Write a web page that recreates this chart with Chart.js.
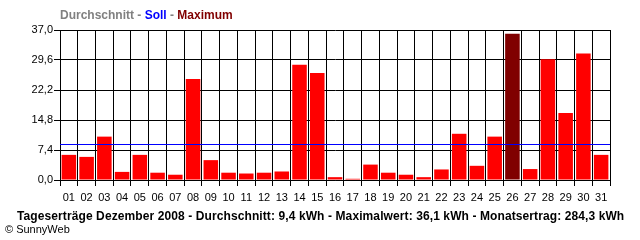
<!DOCTYPE html>
<html>
<head>
<meta charset="utf-8">
<script src="https://cdn.jsdelivr.net/npm/chart.js@4/dist/chart.umd.min.js"></script>
<style>
  html, body { margin: 0; padding: 0; background: #fff; }
  #wrap { position: relative; width: 640px; height: 240px; font-family: "Liberation Sans", Arial, sans-serif; }
  #chart { display: block; }
  #head { position: absolute; left: 60px; top: 8px; font-size: 12px; font-weight: bold; color: #808080; white-space: nowrap; }
  #foot { position: absolute; left: 17px; top: 209px; font-size: 12px; font-weight: bold; color: #000; white-space: nowrap; letter-spacing: 0.1px; }
  #copy { position: absolute; left: 5px; top: 223px; font-size: 11px; color: #000; white-space: nowrap; }
</style>
</head>
<body>
<div id="wrap">
  <canvas id="chart" width="640" height="240"></canvas>
  <div id="head">Durchschnitt - <span style="color:#0000ff">Soll</span> - <span style="color:#800000">Maximum</span></div>
  <div id="foot">Tageserträge Dezember 2008 - Durchschnitt: 9,4 kWh - Maximalwert: 36,1 kWh - Monatsertrag: 284,3 kWh</div>
  <div id="copy">© SunnyWeb</div>
</div>
<script>
var days = ['01', '02', '03', '04', '05', '06', '07', '08', '09', '10', '11', '12', '13', '14', '15', '16',
    '17', '18', '19', '20', '21', '22', '23', '24', '25', '26', '27', '28', '29', '30', '31'];
var yields = [6.2, 5.7, 10.7, 2.0, 6.2, 1.8, 1.3, 24.9, 4.9, 1.8, 1.6, 1.8, 2.1, 28.4, 26.4, 0.7,
    0.3, 3.8, 1.8, 1.3, 0.7, 2.6, 11.4, 3.5, 10.7, 36.1, 2.7, 29.8, 16.5, 31.2, 6.2];
var yTicks = [0, 7.4, 14.8, 22.2, 29.6, 37.0];
var soll = 9.0;
var maxValue = Math.max.apply(null, yields);

var barColors = yields.map(function (v) {
    return v === maxValue ? '#800000' : '#ff0000';
});

// blue target line across the whole plot
var sollLine = {
    id: 'sollLine',
    afterDatasetsDraw: function (chart) {
        var ctx = chart.ctx;
        var area = chart.chartArea;
        var y = Math.round(chart.scales.y.getPixelForValue(soll)) + 0.5;
        ctx.save();
        ctx.strokeStyle = '#0000ff';
        ctx.lineWidth = 1;
        ctx.beginPath();
        ctx.moveTo(area.left, y);
        ctx.lineTo(area.right, y);
        ctx.stroke();
        ctx.restore();
    }
};

var ctx = document.getElementById('chart').getContext('2d');
var myChart = new Chart(ctx, {
    type: 'bar',
    data: {
        labels: days,
        datasets: [{
            data: yields,
            backgroundColor: barColors,
            borderWidth: 0,
            barPercentage: 0.82,
            categoryPercentage: 1
        }]
    },
    options: {
        responsive: false,
        animation: false,
        layout: { padding: { top: 30, right: 30, left: 0, bottom: 0 } },
        plugins: {
            legend: { display: false },
            tooltip: { enabled: false }
        },
        scales: {
            x: {
                offset: true,
                grid: { offset: true, color: '#000', lineWidth: 1, tickLength: 6 },
                border: { color: '#000', width: 1 },
                ticks: {
                    color: '#000',
                    padding: 5,
                    maxRotation: 0,
                    autoSkip: false,
                    font: { family: '"Liberation Sans", Arial, sans-serif', size: 11 }
                },
                afterFit: function (scale) { scale.height = 60; }
            },
            y: {
                min: 0,
                max: 37,
                afterBuildTicks: function (scale) {
                    scale.ticks = yTicks.map(function (v) { return { value: v }; });
                },
                grid: { color: '#000', lineWidth: 1, tickLength: 6 },
                border: { color: '#000', width: 1 },
                ticks: {
                    color: '#000',
                    padding: 1,
                    font: { family: '"Liberation Sans", Arial, sans-serif', size: 11 },
                    callback: function (v) { return v.toFixed(1).replace('.', ','); }
                },
                afterFit: function (scale) { scale.width = 60; }
            }
        }
    },
    plugins: [sollLine]
});
</script>
</body>
</html>
